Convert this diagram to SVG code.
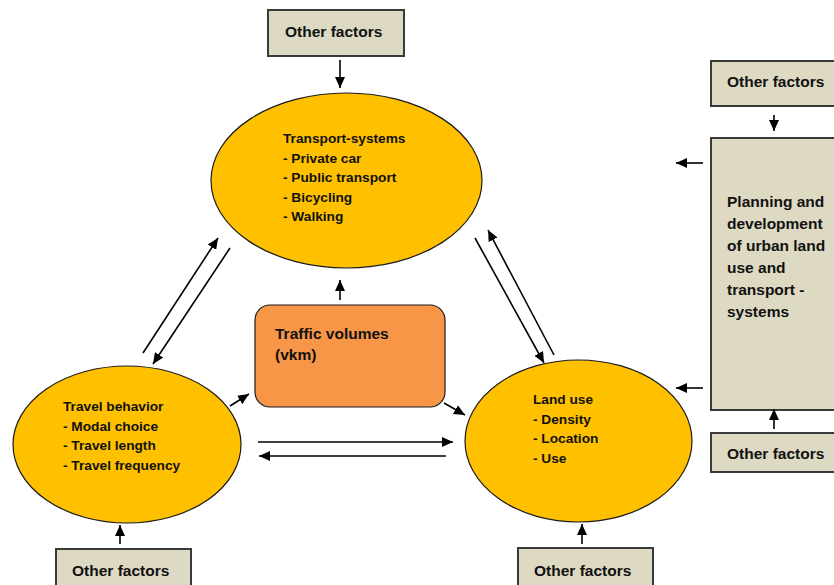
<svg xmlns="http://www.w3.org/2000/svg" width="834" height="585" viewBox="0 0 834 585">
<defs>
<marker id="ah" markerUnits="userSpaceOnUse" markerWidth="12" markerHeight="10" refX="11" refY="5" orient="auto">
<path d="M0,0 L11,5 L0,10 z" fill="#000"/>
</marker>
<style>
.box{fill:#DDD9C3;stroke:#3a3a3a;stroke-width:2}
.ell{fill:#FFC000;stroke:#1a1a1a;stroke-width:1.2}
.tv{fill:#F79646;stroke:#1a1a1a;stroke-width:1.2}
.bt{font-family:"Liberation Sans",Arial,sans-serif;font-weight:bold;font-size:15.5px;fill:#111}
.et{font-family:"Liberation Sans",Arial,sans-serif;font-weight:bold;font-size:13.7px;fill:#111}
.c{stroke:#000;stroke-width:1.6;fill:none}
</style>
</defs>
<rect width="834" height="585" fill="#fff"/>
<g id="of-top">
<rect class="box" x="268" y="10" width="136" height="46"/>
<text class="bt" x="285" y="37">Other factors</text>
</g>
<g id="transport">
<ellipse class="ell" cx="346.5" cy="180.5" rx="135.5" ry="87.5"/>
<text class="et" x="283" y="143">Transport-systems</text>
<text class="et" x="283" y="162.5">- Private car</text>
<text class="et" x="283" y="182">- Public transport</text>
<text class="et" x="283" y="201.5">- Bicycling</text>
<text class="et" x="283" y="221">- Walking</text>
</g>
<g id="travel">
<ellipse class="ell" cx="127" cy="444.5" rx="114" ry="78.5"/>
<text class="et" x="63" y="411">Travel behavior</text>
<text class="et" x="63" y="430.5">- Modal choice</text>
<text class="et" x="63" y="450">- Travel length</text>
<text class="et" x="63" y="469.5">- Travel frequency</text>
</g>
<g id="traffic">
<rect class="tv" x="255" y="305" width="190" height="102" rx="15"/>
<text class="bt" x="275" y="339">Traffic volumes</text>
<text class="bt" x="275" y="360">(vkm)</text>
</g>
<g id="landuse">
<ellipse class="ell" cx="578.5" cy="441" rx="113.5" ry="81"/>
<text class="et" x="533" y="404">Land use</text>
<text class="et" x="533" y="423.5">- Density</text>
<text class="et" x="533" y="443">- Location</text>
<text class="et" x="533" y="462.5">- Use</text>
</g>
<g id="planning">
<rect class="box" x="711" y="138" width="130" height="272"/>
<text class="bt" x="727" y="207">Planning and</text>
<text class="bt" x="727" y="229">development</text>
<text class="bt" x="727" y="251">of urban land</text>
<text class="bt" x="727" y="273">use and</text>
<text class="bt" x="727" y="295">transport -</text>
<text class="bt" x="727" y="317">systems</text>
</g>
<g id="of-right-top">
<rect class="box" x="711" y="61" width="130" height="45"/>
<text class="bt" x="727" y="87">Other factors</text>
</g>
<g id="of-right-bottom">
<rect class="box" x="711" y="433" width="130" height="39"/>
<text class="bt" x="727" y="459">Other factors</text>
</g>
<g id="of-bottom-left">
<rect class="box" x="56" y="549" width="135" height="46"/>
<text class="bt" x="72" y="576">Other factors</text>
</g>
<g id="of-bottom-right">
<rect class="box" x="518" y="548" width="135" height="47"/>
<text class="bt" x="534" y="576">Other factors</text>
</g>
<g id="connectors">
<line class="c" x1="340" y1="60" x2="340" y2="88" marker-end="url(#ah)"/>
<line class="c" x1="340" y1="300" x2="340" y2="280" marker-end="url(#ah)"/>
<line class="c" x1="143" y1="353" x2="218" y2="238" marker-end="url(#ah)"/>
<line class="c" x1="230" y1="248" x2="153" y2="364" marker-end="url(#ah)"/>
<line class="c" x1="475" y1="238" x2="544" y2="363" marker-end="url(#ah)"/>
<line class="c" x1="554" y1="355" x2="488" y2="230" marker-end="url(#ah)"/>
<line class="c" x1="230" y1="406" x2="249" y2="394" marker-end="url(#ah)"/>
<line class="c" x1="444" y1="403" x2="465" y2="415" marker-end="url(#ah)"/>
<line class="c" x1="258" y1="442" x2="453" y2="442" marker-end="url(#ah)"/>
<line class="c" x1="446" y1="456" x2="259" y2="456" marker-end="url(#ah)"/>
<line class="c" x1="774" y1="115" x2="774" y2="131" marker-end="url(#ah)"/>
<line class="c" x1="703" y1="163" x2="676" y2="163" marker-end="url(#ah)"/>
<line class="c" x1="703" y1="388" x2="676" y2="388" marker-end="url(#ah)"/>
<line class="c" x1="774" y1="429" x2="774" y2="409" marker-end="url(#ah)"/>
<line class="c" x1="120" y1="544" x2="120" y2="525" marker-end="url(#ah)"/>
<line class="c" x1="582" y1="544" x2="582" y2="524" marker-end="url(#ah)"/>
</g>
</svg>
